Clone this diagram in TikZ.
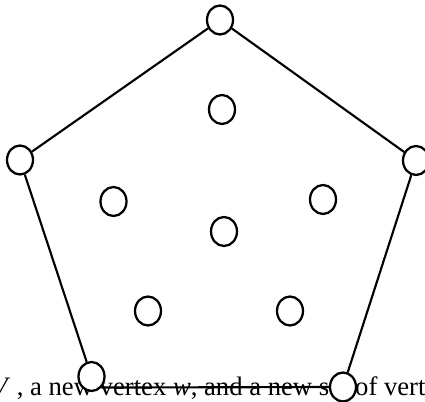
\documentclass[tikz,border=0pt]{standalone}
\usepackage{fontspec}
\setmainfont{Liberation Serif}
\usetikzlibrary{shapes.geometric}
\tikzset{
  vtx/.style={draw,fill=white,ellipse,line width=1.7pt,inner sep=0pt,
    minimum width=19.5pt,minimum height=21.75pt},
  edge/.style={line width=1.6pt}
}

\begin{document}
\begin{tikzpicture}[x=0.75pt,y=-0.75pt]
\useasboundingbox (0,0) rectangle (425,402);
\clip (0,0) rectangle (425,402);
% Text of the page behind the figure
\node[anchor=base west,inner sep=0pt,font=\fontsize{20}{22}\selectfont] (line) at (-9,396)
  {\textit{V} , a new vertex \textit{w}, and a new set of vertices};
% Outer vertices
\node[vtx] (top) at (220,20) {};
\node[vtx] (left) at (20,160) {};
\node[vtx] (right) at (416,160.5) {};
\node[vtx] (botl) at (91.5,376.5) {};
\node[vtx] (botr) at (343,387) {};
% Inner vertices
\node[vtx] (in1) at (222,109.5) {};
\node[vtx] (in2) at (113.5,201.5) {};
\node[vtx] (in3) at (323,199.5) {};
\node[vtx] (in4) at (224,231.5) {};
\node[vtx] (in5) at (148,311) {};
\node[vtx] (in6) at (290,311) {};
% Outer cycle
\draw[edge] (top) -- (left);
\draw[edge] (left) -- (botl);
\draw[edge] (botl.south east) -- (botr.west);
\draw[edge] (botr) -- (right);
\draw[edge] (right) -- (top);
\end{tikzpicture}
\end{document}
